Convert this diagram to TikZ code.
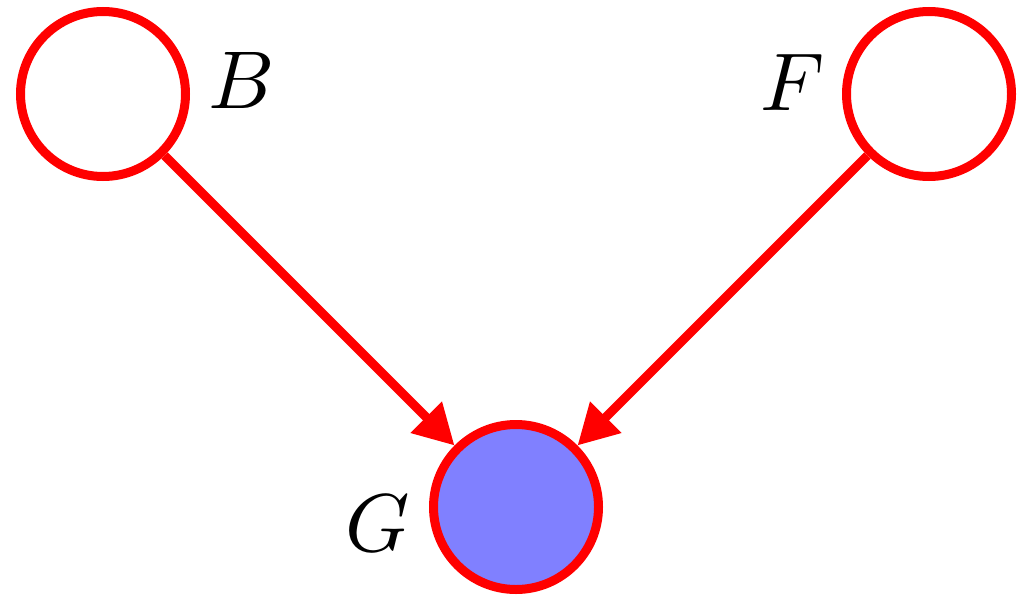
\documentclass[tikz,border=0pt]{standalone}
\usetikzlibrary{arrows.meta}
\definecolor{nodefill}{rgb}{0.5,0.5,1}
\tikzset{
  var/.style={circle, draw=red, line width=9pt, minimum size=165pt, inner sep=0pt},
  obs/.style={var, fill=nodefill},
  lbl/.style={inner sep=0pt},
  edge/.style={draw=red, line width=9pt, -{Triangle[length=40pt,width=42pt]}}
}
\newcommand{\biglbl}[1]{\scalebox{8.2}{$#1$}}
\begin{document}
\begin{tikzpicture}[x=1pt,y=1pt]
\useasboundingbox (0,0) rectangle (1025,-608);
\node[var] (B) at (103,-94) {};
\node[var] (F) at (929,-94) {};
\node[obs] (G) at (516,-507) {};
\node[lbl] (lB) at (242,-80) {\biglbl{B}};
\node[lbl] (lF) at (793,-82) {\biglbl{F}};
\node[lbl] (lG) at (378,-523) {\biglbl{G}};
\draw[edge] (B) -- (G);
\draw[edge] (F) -- (G);
\end{tikzpicture}
\end{document}
